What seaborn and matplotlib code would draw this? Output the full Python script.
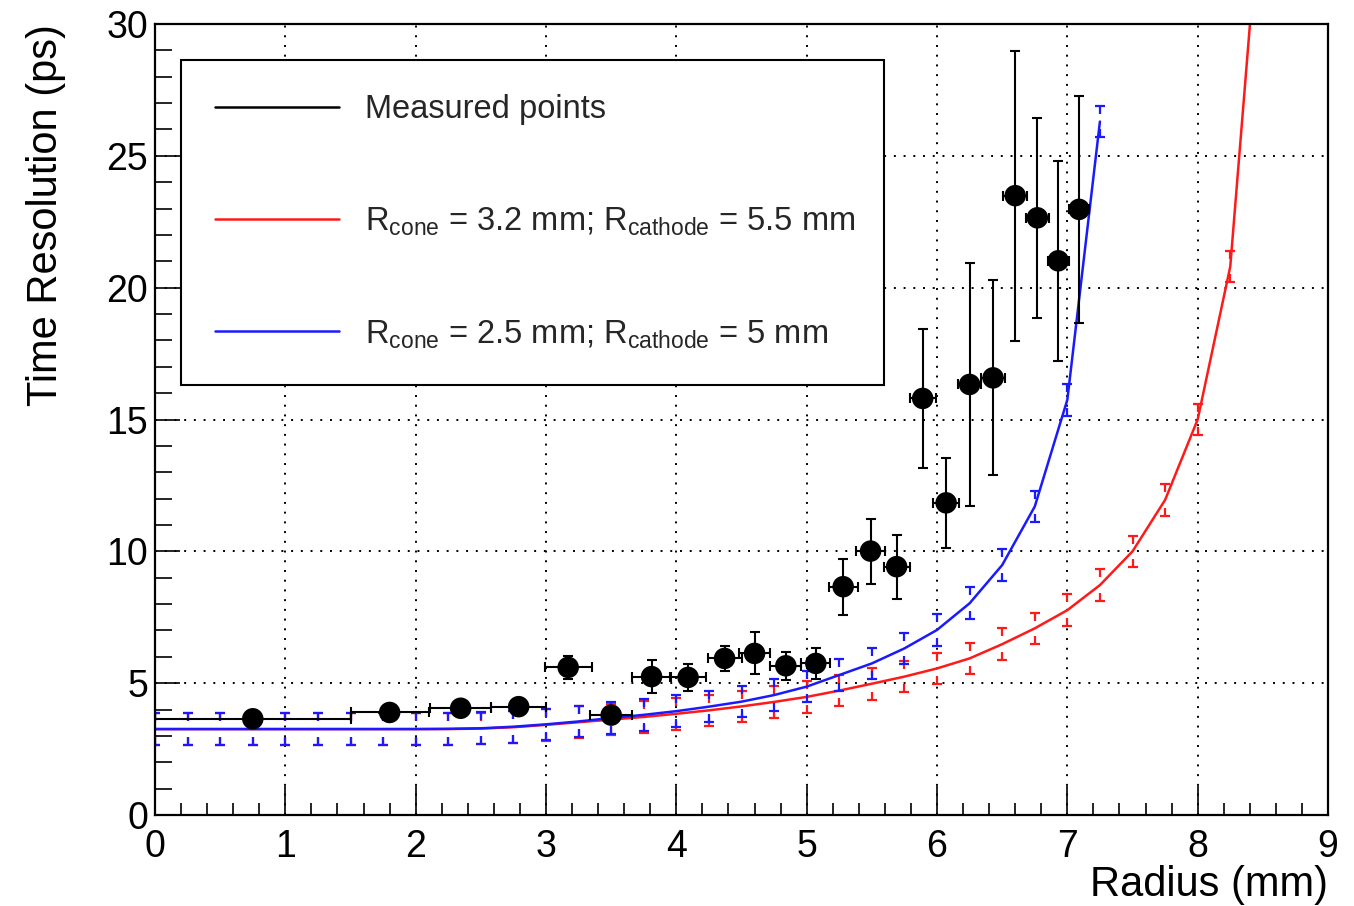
import numpy as np
import pandas as pd
import matplotlib
matplotlib.use('Agg')
import matplotlib.pyplot as plt
from matplotlib.path import Path
from matplotlib.lines import Line2D
from matplotlib.ticker import MultipleLocator
import seaborn as sns

# model curves (evaluated every 0.25 mm), common uncertainty
model_err = 0.6
blue_x = [0.0, 0.25, 0.5, 0.75, 1.0, 1.25, 1.5, 1.75, 2.0, 2.25, 2.5, 2.75, 3.0, 3.25, 3.5,
          3.75, 4.0, 4.25, 4.5, 4.75, 5.0, 5.25, 5.5, 5.75, 6.0, 6.25, 6.5, 6.75, 7.0, 7.25]
blue_y = [3.26, 3.26, 3.26, 3.26, 3.26, 3.26, 3.26, 3.26, 3.26, 3.27, 3.29, 3.35, 3.44, 3.55, 3.68,
          3.80, 3.94, 4.11, 4.30, 4.55, 4.87, 5.31, 5.75, 6.32, 7.02, 8.03, 9.48, 11.7, 15.75, 26.3]
red_x = [0.0, 0.25, 0.5, 0.75, 1.0, 1.25, 1.5, 1.75, 2.0, 2.25, 2.5, 2.75, 3.0, 3.25, 3.5,
         3.75, 4.0, 4.25, 4.5, 4.75, 5.0, 5.25, 5.5, 5.75, 6.0, 6.25, 6.5, 6.75, 7.0, 7.25,
         7.5, 7.75, 8.0, 8.25, 8.5]
red_y = [3.26, 3.26, 3.26, 3.26, 3.26, 3.26, 3.26, 3.26, 3.26, 3.26, 3.28, 3.33, 3.42, 3.52, 3.62,
         3.72, 3.84, 3.97, 4.12, 4.29, 4.48, 4.72, 4.98, 5.25, 5.56, 5.94, 6.48, 7.08, 7.77, 8.72,
         10.0, 11.95, 15.0, 20.8, 36.0]

# measured points
meas_x = [0.75, 1.80, 2.345, 2.79, 3.17, 3.50, 3.81, 4.09, 4.37, 4.60, 4.84, 5.07,
          5.28, 5.49, 5.69, 5.89, 6.07, 6.25, 6.43, 6.60, 6.77, 6.93, 7.09]
meas_y = [3.65, 3.89, 4.05, 4.11, 5.60, 3.79, 5.25, 5.22, 5.94, 6.13, 5.66, 5.75,
          8.66, 10.01, 9.42, 15.8, 11.84, 16.33, 16.58, 23.49, 22.65, 21.02, 22.97]
meas_xerr = [0.75, 0.30, 0.235, 0.21, 0.18, 0.16, 0.15, 0.14, 0.13, 0.12, 0.12, 0.11,
             0.11, 0.11, 0.10, 0.10, 0.10, 0.09, 0.09, 0.09, 0.09, 0.08, 0.08]
meas_yerr = [0.10, 0.12, 0.15, 0.12, 0.45, 0.20, 0.63, 0.50, 0.48, 0.80, 0.52, 0.60,
             1.06, 1.23, 1.21, 2.65, 1.70, 4.60, 3.70, 5.50, 3.80, 3.80, 4.30]

labels = ['Measured points',
          r'R$_{\mathregular{cone}}$ = 3.2 mm; R$_{\mathregular{cathode}}$ = 5.5 mm',
          r'R$_{\mathregular{cone}}$ = 2.5 mm; R$_{\mathregular{cathode}}$ = 5 mm']

RED = '#ff1a1a'
BLUE = '#1a1aff'

sns.set_theme(style='white')
plt.rcParams['font.family'] = ['Liberation Sans', 'DejaVu Sans']
plt.rcParams['mathtext.fontset'] = 'custom'
plt.rcParams['mathtext.rm'] = 'Liberation Sans'

fig = plt.figure(figsize=(13.54, 9.06), dpi=100)
ax = fig.add_axes([0.1145, 0.1004, 0.8663, 0.8731])

# T-shaped caps for model uncertainty
cap_up = Path([(-1, 0), (1, 0), (0, 0), (0, -1.4)],
              [Path.MOVETO, Path.LINETO, Path.MOVETO, Path.LINETO])
cap_dn = Path([(-1, 0), (1, 0), (0, 0), (0, 1.4)],
              [Path.MOVETO, Path.LINETO, Path.MOVETO, Path.LINETO])

for xs, ys, col in [(red_x, red_y, RED), (blue_x, blue_y, BLUE)]:
    df = pd.DataFrame({'x': xs, 'y': ys})
    sns.lineplot(data=df, x='x', y='y', ax=ax, color=col, linewidth=1.8,
                 sort=False, estimator=None)
    yy = np.array(ys)
    ax.plot(xs, yy + model_err, linestyle='none', marker=cap_up, markersize=11,
            markeredgecolor=col, markeredgewidth=1.6, markerfacecolor='none')
    ax.plot(xs, yy - model_err, linestyle='none', marker=cap_dn, markersize=11,
            markeredgecolor=col, markeredgewidth=1.6, markerfacecolor='none')

ax.errorbar(meas_x, meas_y, xerr=meas_xerr, yerr=meas_yerr, fmt='none',
            ecolor='black', elinewidth=1.5, capsize=3.5, capthick=1.5, zorder=4)
sns.scatterplot(x=meas_x, y=meas_y, ax=ax, color='black', s=240,
                edgecolor='none', zorder=5)

ax.set_xlim(0, 9)
ax.set_ylim(0, 30)
ax.xaxis.set_major_locator(MultipleLocator(1))
ax.xaxis.set_minor_locator(MultipleLocator(0.2))
ax.yaxis.set_major_locator(MultipleLocator(5))
ax.yaxis.set_minor_locator(MultipleLocator(1))

ax.tick_params(axis='both', which='both', direction='in', colors='black',
               labelsize=27, width=1.2, top=False, right=False,
               bottom=True, left=True)
ax.tick_params(axis='x', which='major', length=21, pad=10)
ax.tick_params(axis='x', which='minor', length=9)
ax.tick_params(axis='y', which='major', length=18, pad=5)
ax.tick_params(axis='y', which='minor', length=12)

for sp in ax.spines.values():
    sp.set_color('black')
    sp.set_linewidth(1.6)

ax.set_axisbelow(True)
ax.grid(True, which='major', color='black', linestyle=(0, (1, 4)), linewidth=1.4)

ax.set_xlabel('Radius (mm)', loc='right', fontsize=30, labelpad=0, color='black')
ax.set_ylabel('Time Resolution (ps)', loc='top', fontsize=30, labelpad=29, color='black')

handles = [Line2D([], [], color='black', linewidth=1.8),
           Line2D([], [], color=RED, linewidth=1.8),
           Line2D([], [], color=BLUE, linewidth=1.8)]
leg = ax.legend(handles, labels, loc='upper left',
                bbox_to_anchor=(0.0222, 0.540, 0.5993, 0.4145), mode='expand',
                fontsize=23.5, frameon=True, fancybox=False, shadow=False,
                framealpha=1, edgecolor='black', borderpad=1.05,
                labelspacing=2.45, handlelength=3.8, handletextpad=0.8,
                borderaxespad=0)
leg.get_frame().set_linewidth(1.5)

fig.savefig('out.png', dpi=100)
